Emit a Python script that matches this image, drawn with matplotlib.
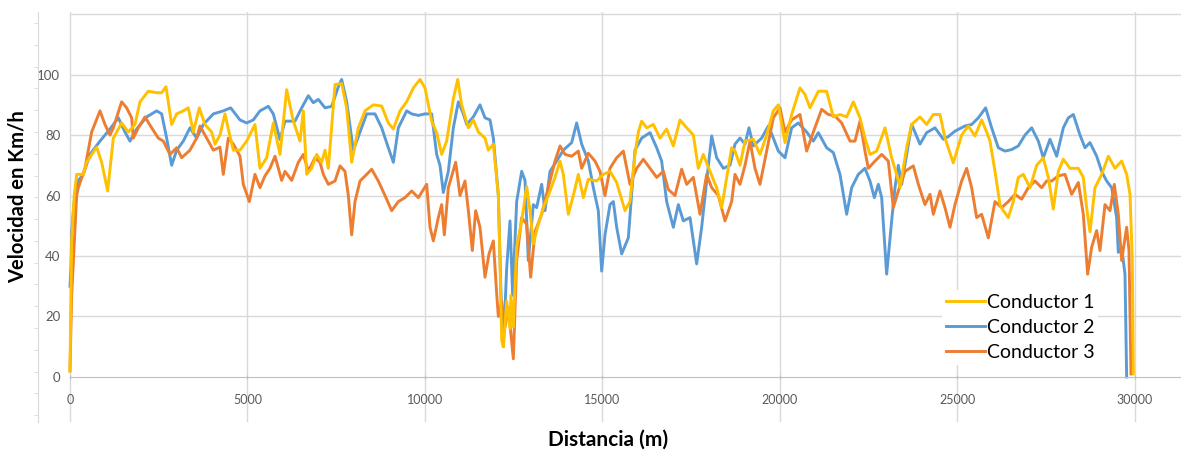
import matplotlib
matplotlib.use('Agg')
import matplotlib.pyplot as plt
import numpy as np

plt.rcParams['font.family'] = ['Lato', 'DejaVu Sans']

# distance (m) / speed (km/h)
c1_dist = [0, 20, 47, 120, 188, 376, 469, 751, 892, 1061, 1221, 1455, 1643, 1831, 1972, 2207, 2441, 2582,
           2704, 2864, 3005, 3192, 3333, 3474, 3643, 3803, 3991, 4085, 4225, 4366, 4460, 4601, 4789, 4977,
           5211, 5352, 5540, 5728, 5916, 6104, 6292, 6480, 6573, 6667, 6808, 6949, 7090, 7184, 7278, 7466,
           7653, 7794, 7935, 8123, 8311, 8545, 8780, 8968, 9109, 9297, 9484, 9672, 9860, 10000, 10189,
           10329, 10470, 10611, 10799, 10921, 11034, 11222, 11362, 11503, 11691, 11785, 11926, 12067,
           12114, 12161, 12208, 12302, 12395, 12420, 12489, 12583, 12724, 12865, 12958, 13052, 13193,
           13334, 13475, 13663, 13804, 13897, 14038, 14179, 14320, 14461, 14602, 14836, 15024, 15212,
           15400, 15635, 15775, 15916, 16010, 16104, 16245, 16433, 16621, 16808, 16996, 17184, 17372,
           17560, 17700, 17841, 18029, 18217, 18358, 18499, 18639, 18733, 18874, 19015, 19249, 19437,
           19625, 19813, 19954, 20142, 20329, 20564, 20705, 20846, 21081, 21315, 21503, 21691, 21879,
           22066, 22254, 22395, 22536, 22724, 22959, 23146, 23287, 23381, 23569, 23710, 23944, 24132,
           24320, 24508, 24649, 24883, 25118, 25306, 25493, 25681, 25822, 25916, 26057, 26198, 26292,
           26432, 26573, 26714, 26855, 27043, 27231, 27418, 27559, 27700, 27841, 27982, 28170, 28405,
           28545, 28639, 28733, 28874, 29062, 29250, 29437, 29625, 29766, 29860, 29926, 29954]
c1_speed = [2, 20, 45, 60, 67, 67, 71, 76, 71, 61.5, 79, 84, 81, 83.5, 91, 94.5, 94, 94,
            96, 83.5, 87, 88, 89, 81, 89, 83.5, 81, 77, 80, 87, 82, 75, 75, 78,
            83.5, 69, 72.5, 84, 73.6, 95, 84.6, 78, 88, 67, 69, 73.6, 71, 75, 69, 96.7,
            97, 89, 71, 82.4, 88, 90, 89.6, 84, 82, 88, 91, 95.6, 98.4, 95.6, 84.6,
            80.8, 73.6, 78, 92, 98.4, 90, 82.4, 85, 81, 79, 75, 77, 60,
            38, 12, 10, 25, 16, 27, 16.5, 43, 51.6, 63, 55, 44, 50.5,
            56, 60, 66, 71.4, 67, 53.8, 60, 67, 59.3, 65.4, 64.8, 67, 68,
            64.3, 55, 58, 73.6, 81, 84.6, 82.4, 83.5, 79, 82, 76.4, 85, 82.4,
            80, 69, 73.6, 68, 62.6, 56, 66, 75.8, 74.7, 70, 78, 78.6, 73.6,
            80, 88, 90, 77.5, 86.8, 95.6, 93.4, 89, 94.5, 94.5, 86, 86.8, 86,
            91, 85.7, 79, 73.6, 74.7, 82.4, 72.5, 67, 62.6, 75.8, 83.5, 86, 83.5,
            86.8, 86.8, 79, 70.8, 80, 83, 79.7, 85, 81, 78, 68, 57, 55,
            52.7, 58, 66, 67, 62.6, 70, 72.5, 66, 55.5, 68, 72, 69, 69,
            66, 56, 48, 62.6, 67, 73, 69, 71.4, 67, 60.4, 38.5, 1]

c2_dist = [0, 30, 47, 120, 188, 235, 376, 563, 845, 1127, 1362, 1549, 1690, 1878, 2160, 2441, 2582, 2723,
           2864, 3005, 3192, 3380, 3568, 3756, 4038, 4319, 4526, 4789, 4977, 5164, 5352, 5587, 5728, 5916,
           6057, 6339, 6527, 6714, 6855, 6996, 7184, 7372, 7560, 7653, 7794, 7982, 8170, 8358, 8592, 8780,
           8968, 9109, 9250, 9484, 9625, 9813, 10000, 10189, 10329, 10423, 10517, 10658, 10799, 10940,
           11081, 11175, 11362, 11550, 11691, 11832, 11926, 12067, 12142, 12208, 12302, 12395, 12470,
           12583, 12724, 12818, 12911, 13052, 13146, 13287, 13381, 13522, 13710, 13897, 14132, 14273,
           14414, 14602, 14743, 14883, 14977, 15071, 15212, 15306, 15400, 15541, 15728, 15916, 16104,
           16339, 16527, 16667, 16808, 16996, 17137, 17278, 17466, 17653, 17794, 17935, 18076, 18217,
           18405, 18592, 18733, 18874, 19015, 19127, 19249, 19484, 19672, 19813, 19954, 20142, 20329,
           20517, 20752, 20940, 21081, 21315, 21503, 21691, 21879, 22020, 22207, 22395, 22536, 22658,
           22771, 22865, 23005, 23146, 23240, 23334, 23428, 23569, 23710, 23944, 24132, 24367, 24602,
           24743, 24930, 25212, 25400, 25587, 25794, 25963, 26151, 26339, 26526, 26714, 26902, 27090,
           27278, 27418, 27606, 27794, 27982, 28123, 28264, 28452, 28592, 28733, 28921, 29062, 29203,
           29344, 29484, 29531, 29625, 29719, 29766]
c2_speed = [30, 37, 48, 58, 63, 65, 67, 73.6, 78, 82, 85.7, 81, 78, 82, 86, 88, 87, 79,
            70, 75, 78, 82.4, 79, 83.5, 87, 88, 89, 85, 84, 85, 88, 89.5, 87, 78.5,
            84.6, 84.6, 89, 93, 90.7, 91.8, 89, 89.5, 96, 98.4, 91, 75, 81, 87, 87, 82.4,
            75.8, 71, 82.4, 88, 87, 86.5, 87, 87, 73.6, 70, 61, 68, 82.4, 91,
            87, 83.5, 86, 90, 85.7, 85, 79, 60, 27, 10, 36, 51.6, 27,
            58, 68, 65, 38.5, 57, 56, 63.7, 55, 68, 71.4, 75, 77.5, 84,
            77, 71.4, 62.6, 55, 35, 47, 57, 58, 49.5, 40.7, 46, 75, 79,
            80.8, 75.8, 71.4, 58, 49.5, 57, 51.6, 52.7, 37.4, 49.5, 64.8, 79.7, 72.5,
            69, 70, 77, 79, 77, 82.4, 76.4, 79, 83, 79, 74.7, 72.5, 82.4,
            84, 81, 78, 80.8, 75.8, 74.2, 67, 53.8, 62.6, 67, 69, 64.8, 59.3,
            63.7, 59.3, 34, 51.6, 62.6, 70, 63.7, 73.6, 83.5, 77, 80.8, 82.4, 78.6,
            79.5, 81.3, 83, 83.5, 85.7, 89, 82.4, 75.8, 74.7, 75.2, 76.4, 80, 82.4,
            78, 72.5, 78.6, 73, 82.4, 85.7, 86.8, 80, 75.8, 77.5, 73, 68, 64.8,
            62.6, 52.7, 41.2, 42.9, 34, 0]

c3_dist = [0, 47, 188, 235, 422, 610, 845, 986, 1127, 1221, 1455, 1596, 1737, 1784, 1925, 2113, 2300,
           2488, 2629, 2817, 3005, 3146, 3380, 3568, 3662, 3850, 4038, 4225, 4319, 4460, 4601, 4789,
           4883, 5052, 5211, 5352, 5493, 5634, 5775, 5963, 6057, 6245, 6433, 6573, 6714, 6902, 7043,
           7137, 7278, 7466, 7606, 7747, 7841, 7935, 8029, 8170, 8358, 8498, 8686, 8874, 9062, 9250,
           9437, 9625, 9813, 10048, 10142, 10236, 10376, 10470, 10545, 10658, 10865, 10987, 11128,
           11222, 11334, 11428, 11550, 11691, 11804, 11926, 12020, 12067, 12161, 12255, 12349, 12489,
           12583, 12724, 12865, 12977, 13099, 13287, 13475, 13663, 13804, 13944, 14132, 14320, 14414,
           14602, 14789, 14930, 15071, 15212, 15400, 15588, 15775, 15963, 16151, 16339, 16527, 16714,
           16855, 17043, 17231, 17372, 17560, 17747, 17935, 18076, 18264, 18452, 18639, 18733, 18874,
           19015, 19156, 19296, 19437, 19625, 19813, 20001, 20142, 20329, 20564, 20752, 20940, 21174,
           21362, 21550, 21738, 21973, 22113, 22254, 22395, 22489, 22677, 22865, 23052, 23193, 23334,
           23522, 23757, 23898, 24085, 24226, 24320, 24508, 24649, 24790, 24930, 25118, 25259, 25400,
           25540, 25681, 25869, 26057, 26245, 26432, 26620, 26808, 26996, 27184, 27371, 27512, 27653,
           27841, 28029, 28217, 28405, 28545, 28667, 28780, 28921, 29015, 29156, 29297, 29419, 29531,
           29625, 29766, 29832, 29888]
c3_speed = [2, 27, 60, 62.6, 69, 81, 88, 83.5, 80, 82.4, 91, 89, 85.7, 79, 82.4, 86, 82.4,
            79, 78, 73.6, 75.8, 72.5, 75, 79, 83, 79, 75, 76, 67, 79, 77, 73,
            63.7, 58, 67, 62.6, 66.5, 69, 73, 65, 68, 65, 71, 73.6, 68, 72.5, 71,
            67, 63.7, 64.8, 69.8, 68, 60, 47, 58, 64.8, 67, 68.7, 64.8, 60, 55, 58,
            59.3, 61.5, 59.3, 63.7, 49.5, 45, 52.7, 57, 47, 62.6, 71, 60, 64.8,
            55, 41.8, 55, 49.5, 33, 40.7, 45, 27.5, 20, 25, 16.5, 23, 6,
            38.5, 52.7, 50.5, 33, 48, 53.8, 62.6, 71.4, 76.4, 73.6, 73, 74.7, 69,
            74, 71.4, 68, 60, 69, 72.5, 74.7, 63.7, 69, 72, 69, 66, 68,
            62, 60, 68.7, 63.7, 66, 53.8, 67, 62.6, 60, 51.6, 58, 67, 63.7,
            70, 78, 69, 63.7, 74.7, 85.7, 89, 81, 85, 86.8, 74.7, 81, 88.5,
            86.8, 86.3, 84, 78, 78, 84.6, 74.7, 69, 71.4, 73.6, 71.4, 56, 61.5,
            68, 69.8, 63.7, 57, 60.4, 53.8, 61.5, 56, 49.5, 57, 64.8, 69, 62.6,
            52.7, 53.8, 46, 58, 56, 58, 60.4, 58.8, 62.6, 64.8, 62.6, 64.8, 64.8,
            66.5, 67, 60.4, 64.3, 53.8, 34, 42.9, 48.4, 41.8, 57, 55, 63.7, 53.8,
            38.5, 49.5, 41.8, 1]

series_names = ['Conductor 1', 'Conductor 2', 'Conductor 3']
x_ticks = [0, 5000, 10000, 15000, 20000, 25000, 30000]
y_ticks = [0, 20, 40, 60, 80, 100, 120]
y_labels = ['0', '20', '40', '60', '80', '100', '']

colors = ['#FFC000', '#5B9BD5', '#ED7D31']
grid_col = '#D9D9D9'

W, H = 1181, 454
fig = plt.figure(figsize=(W / 100, H / 100), dpi=100)
ax = fig.add_axes([38 / W, 1 - 422 / H, 1 - 38 / W, (422 - 12) / H])

x_lo, x_hi = -901, 31297
y_lo, y_hi = -14.9, 120.7
ax.set_xlim(x_lo, x_hi)
ax.set_ylim(y_lo, y_hi)

# gridlines
ax.set_xticks(x_ticks)
ax.grid(axis='x', color=grid_col, lw=1)
ax.hlines(y_ticks[1:], 0, x_hi, color=grid_col, lw=1, zorder=0.5)

data = [(c1_dist, c1_speed), (c2_dist, c2_speed), (c3_dist, c3_speed)]
lines = []
for (d, v), c, name, z in zip(data, colors, series_names, [4, 2, 3]):
    ln, = ax.plot(d, v, color=c, lw=2.1, label=name, zorder=z, solid_joinstyle='round')
    lines.append(ln)

# axes styling
for s in ['top', 'right']:
    ax.spines[s].set_visible(False)
ax.spines['bottom'].set_position(('data', 0))
ax.spines['bottom'].set_bounds(0, x_hi)
ax.spines['bottom'].set_color('#BFBFBF')
ax.spines['left'].set_color(grid_col)

ax.tick_params(axis='x', direction='inout', length=3, color='#BFBFBF', pad=11,
               labelsize=9, labelcolor='#595959')
ax.set_xticklabels([str(t) for t in x_ticks])

ax.set_yticks(y_ticks)
ax.set_yticklabels(y_labels)
ax.tick_params(axis='y', which='major', length=0, pad=-16, labelsize=9.5, labelcolor='#595959')
ax.set_yticks(np.arange(-12.6, 120, 7.2), minor=True)
ax.tick_params(axis='y', which='minor', length=3, color=grid_col, direction='out')

fig.text(18 / W, 1 - 197 / H, 'Velocidad en Km/h', rotation=90, ha='center', va='center',
         fontsize=14.5, fontweight='bold')
fig.text(608 / W, 1 - 440 / H, 'Distancia (m)', ha='center', va='center',
         fontsize=15, fontweight='bold')

leg = ax.legend(handles=lines, loc='upper left', bbox_to_anchor=(942 / W, 1 - 290 / H),
                bbox_transform=fig.transFigure, fontsize=14, frameon=True, fancybox=False,
                borderpad=0.2, handlelength=2.0, handletextpad=0.1, labelspacing=0.42,
                borderaxespad=0)
leg.get_frame().set_facecolor('white')
leg.get_frame().set_edgecolor('none')
leg.get_frame().set_alpha(1)

fig.savefig('out.png', dpi=100)
